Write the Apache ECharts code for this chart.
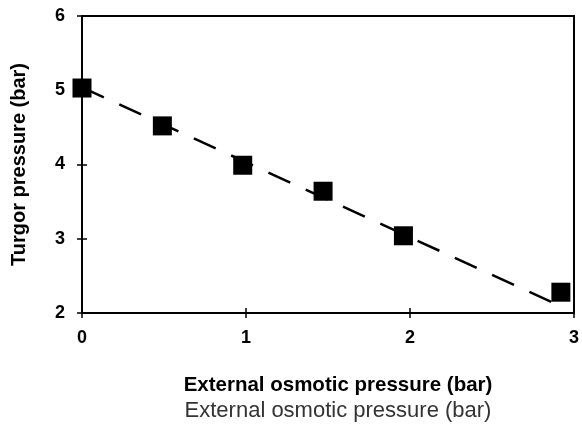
<!DOCTYPE html>
<html>
<head>
<meta charset="utf-8">
<script src="https://cdn.jsdelivr.net/npm/echarts@6/dist/echarts.min.js"></script>
<style>html,body{margin:0;padding:0;background:#fff;}#c{width:582px;height:425px;}</style>
</head>
<body>
<div id="c"></div>
<script>
// Data
var xValues = [0, 0.49, 0.98, 1.47, 1.96, 2.92];
var turgorValues = [5.03, 4.52, 3.99, 3.64, 3.04, 2.28];
var fitX = [0, 2.93];
var fitY = [5.04, 2.08];
var xTicks = [0, 1, 2, 3];
var yTicks = [2, 3, 4, 5, 6];
var xTitle = 'External osmotic pressure (bar)';
var yTitle = 'Turgor pressure (bar)';

var FONT = '"Liberation Sans", Arial, sans-serif';
var chart = echarts.init(document.getElementById('c'), null, {renderer: 'canvas'});

function pairs(xs, ys) { return xs.map(function (x, i) { return [x, ys[i]]; }); }

var option = {
  animation: false,
  backgroundColor: '#fff',
  grid: {left: 82, right: 8, top: 16, bottom: 112, show: true, borderColor: '#000', borderWidth: 2, backgroundColor: 'transparent'},
  xAxis: [{
    type: 'value', min: xTicks[0], max: xTicks[xTicks.length - 1], interval: 1,
    splitLine: {show: false},
    axisLine: {show: true, lineStyle: {color: '#000', width: 2}},
    axisTick: {show: true, inside: true, length: 5, lineStyle: {color: '#000', width: 1.5}},
    axisLabel: {color: '#000', fontFamily: FONT, fontSize: 18, fontWeight: 'bold', margin: 16},
    name: xTitle, nameLocation: 'middle', nameGap: 62,
    nameTextStyle: {color: '#000', fontFamily: FONT, fontSize: 20.5, fontWeight: 'bold', padding: [0, 0, 0, 20]}
  }, {
    type: 'value', position: 'bottom', min: xTicks[0], max: xTicks[xTicks.length - 1], interval: 1,
    splitLine: {show: false}, axisLine: {show: false}, axisLabel: {show: false},
    axisTick: {show: true, inside: false, length: 5, lineStyle: {color: '#000', width: 1.5}}
  }],
  yAxis: [{
    type: 'value', min: yTicks[0], max: yTicks[yTicks.length - 1], interval: 1,
    splitLine: {show: false},
    axisLine: {show: true, lineStyle: {color: '#000', width: 2}},
    axisTick: {show: true, inside: true, length: 5, lineStyle: {color: '#000', width: 1.5}},
    axisLabel: {color: '#000', fontFamily: FONT, fontSize: 18, fontWeight: 'bold', margin: 17},
    name: yTitle, nameLocation: 'middle', nameGap: 53, nameRotate: 90,
    nameTextStyle: {color: '#000', fontFamily: FONT, fontSize: 20, fontWeight: 'bold'}
  }, {
    type: 'value', position: 'left', min: yTicks[0], max: yTicks[yTicks.length - 1], interval: 1,
    splitLine: {show: false}, axisLine: {show: false}, axisLabel: {show: false},
    axisTick: {show: true, inside: false, length: 5, lineStyle: {color: '#000', width: 1.5}}
  }],
  graphic: [{
    type: 'text', x: 338, y: 411,
    style: {text: xTitle, font: '22px ' + FONT, fill: '#333', textAlign: 'center', textVerticalAlign: 'middle'}
  }],
  series: [{
    type: 'line', xAxisIndex: 0, yAxisIndex: 0,
    data: pairs(fitX, fitY), symbol: 'none',
    lineStyle: {color: '#000', width: 2.5, type: [24, 17]}, z: 2
  }, {
    type: 'scatter', xAxisIndex: 0, yAxisIndex: 0,
    data: pairs(xValues, turgorValues), symbol: 'rect', symbolSize: 19,
    itemStyle: {color: '#000', opacity: 1}, z: 3
  }]
};
chart.setOption(option);
</script>
</body>
</html>
